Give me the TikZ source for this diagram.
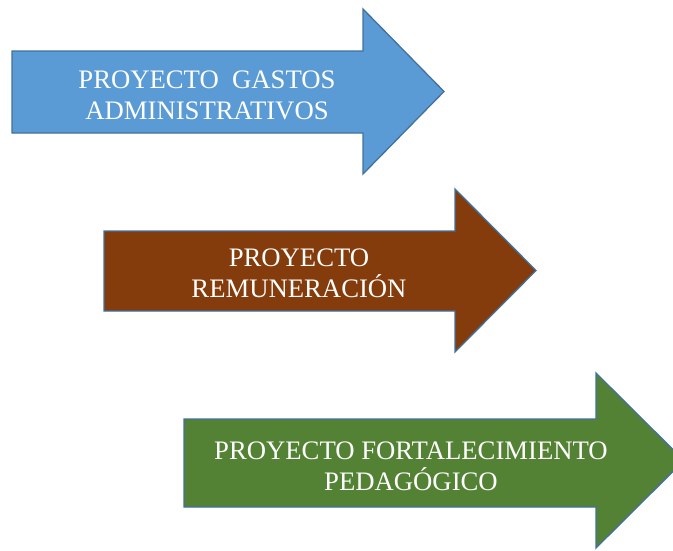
\documentclass[tikz,border=0pt]{standalone}
\usepackage{fontspec}
\setmainfont{Liberation Serif}
\usetikzlibrary{positioning}
\definecolor{gastosblue}{RGB}{91,155,213}
\definecolor{remunbrown}{RGB}{132,60,12}
\definecolor{fortgreen}{RGB}{84,130,53}
\definecolor{edgeblue}{RGB}{65,113,156}
\tikzset{
arrowbox/.style={
  draw=edgeblue,
  line width=1.3pt,
  line join=miter
  },
projtext/.style={
  text=white,
  align=center,
  inner sep=0pt,
  font=\fontsize{26.7}{31}\selectfont
  }
}

\begin{document}
\begin{tikzpicture}[x=1pt,y=-1pt]

\clip (0,0) rectangle (673,550);

\draw[arrowbox,fill=gastosblue]
  (12,51) -- (363,51) -- (363,9) -- (444,91.5) -- (363,174)
  -- (363,133) -- (12,133) -- cycle;

\draw[arrowbox,fill=remunbrown]
  (104,231) -- (455,231) -- (455,189) -- (536,270.5) -- (455,352)
  -- (455,311) -- (104,311) -- cycle;

\draw[arrowbox,fill=fortgreen]
  (184,419) -- (596,419) -- (596,373) -- (684,460.5) -- (596,548)
  -- (596,507) -- (184,507) -- cycle;

\node[projtext] (proj-gastos) at (207,95)
  { PROYECTO\ \ GASTOS\\ ADMINISTRATIVOS };

\node[projtext] (proj-remun) at (299,273)
  { PROYECTO\\ REMUNERACIÓN };

\node[projtext] (proj-fort) at (411,466)
  { PROYECTO FORTALECIMIENTO\\ PEDAGÓGICO };

\end{tikzpicture}
\end{document}
